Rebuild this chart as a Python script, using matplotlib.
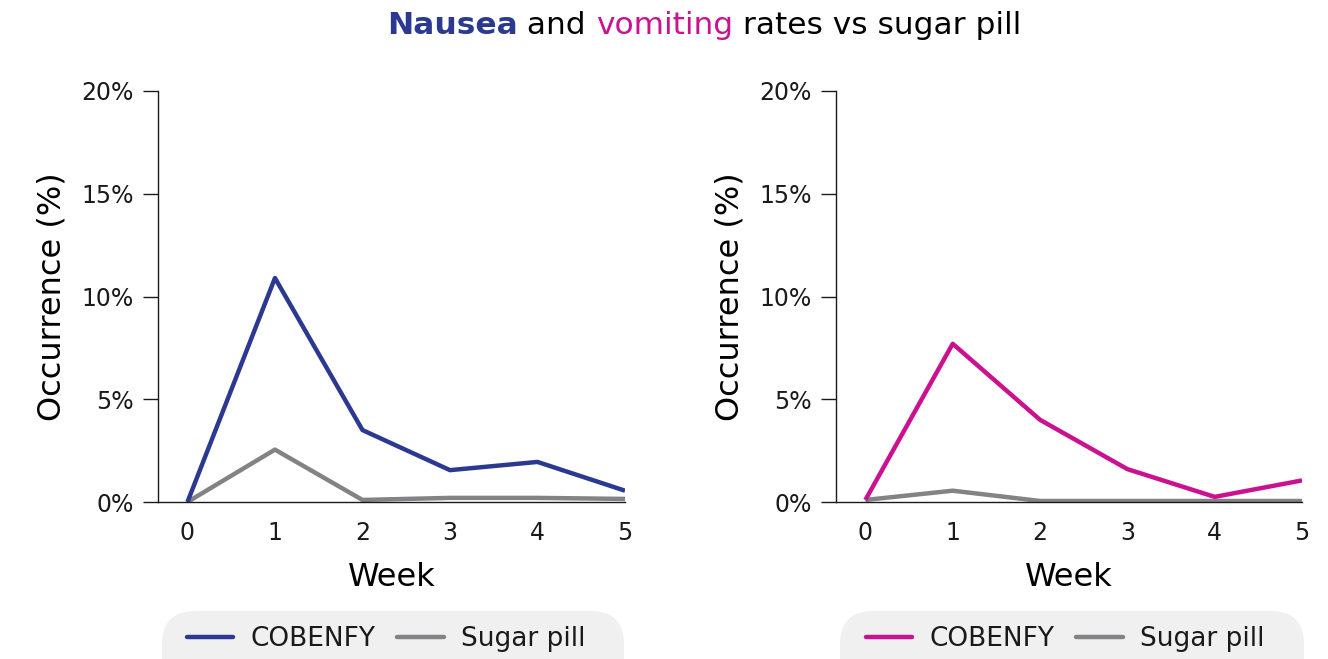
import matplotlib
matplotlib.use("Agg")
import matplotlib.pyplot as plt
from matplotlib.patches import FancyBboxPatch
from matplotlib.lines import Line2D
from matplotlib import ticker

plt.rcParams["font.family"] = ["DejaVu Sans"]

weeks = [0, 1, 2, 3, 4, 5]
nausea_cobenfy = [0.0, 10.9, 3.5, 1.55, 1.95, 0.55]
nausea_placebo = [0.0, 2.55, 0.1, 0.2, 0.2, 0.15]
vomiting_cobenfy = [0.1, 7.7, 4.0, 1.6, 0.25, 1.05]
vomiting_placebo = [0.1, 0.55, 0.05, 0.05, 0.05, 0.05]
y_ticks = [0, 5, 10, 15, 20]
legend_labels = ["COBENFY", "Sugar pill"]

BLUE = "#2b3990"
MAGENTA = "#cc1190"
GREY = "#838386"
TEXT = "#1a1a1a"

W, H = 1328, 659
fig = plt.figure(figsize=(W / 100, H / 100), dpi=100)


def draw_panel(rect, cobenfy, placebo, color):
    ax = fig.add_axes(rect)
    ax.plot(weeks, placebo, color=GREY, lw=3.2, solid_capstyle="butt")
    ax.plot(weeks, cobenfy, color=color, lw=3.2, solid_capstyle="butt")
    ax.set_xlim(-0.34, 5)
    ax.set_ylim(0, 20)
    ax.set_yticks(y_ticks)
    ax.yaxis.set_major_formatter(ticker.FuncFormatter(lambda v, p: f"{v:.0f}%"))
    ax.set_xticks(weeks)
    for s in ["top", "right"]:
        ax.spines[s].set_visible(False)
    for s in ["left", "bottom"]:
        ax.spines[s].set_linewidth(1.0)
        ax.spines[s].set_color(TEXT)
    ax.tick_params(axis="y", length=11, width=1.0, pad=6, labelsize=17, colors=TEXT)
    ax.tick_params(axis="x", length=0, pad=14, labelsize=17, colors=TEXT)
    ax.set_ylabel("Occurrence (%)", fontsize=23, color="black", labelpad=10)
    ax.set_xlabel("Week", fontsize=23, color="black", labelpad=12)
    return ax


ax1 = draw_panel([157.7 / W, 157 / H, 467.3 / W, 411 / H],
                 nausea_cobenfy, nausea_placebo, BLUE)
ax2 = draw_panel([835.7 / W, 157 / H, 466.3 / W, 411 / H],
                 vomiting_cobenfy, vomiting_placebo, MAGENTA)


def draw_legend(x0, x1, color):
    box = FancyBboxPatch((x0 / W, -0.05), (x1 - x0) / W, (659 - 611) / H + 0.05,
                         boxstyle="round,pad=0,rounding_size=0.025",
                         transform=fig.transFigure, facecolor="#f0f0f0",
                         edgecolor="none", mutation_aspect=W / H)
    fig.patches.append(box)
    handles = [Line2D([], [], color=color, lw=3.2, solid_capstyle="round"),
               Line2D([], [], color=GREY, lw=3.2, solid_capstyle="round")]
    # content sits a little left of the box centre
    fig.legend(handles, legend_labels, loc="center",
               bbox_to_anchor=((x0 + x1) / 2 / W - 7 / W, (659 - 639) / H),
               ncol=2, frameon=False, fontsize=19, handlelength=1.75,
               columnspacing=0.85, handletextpad=0.65, labelcolor=TEXT)


draw_legend(162, 624, BLUE)
draw_legend(840, 1304, MAGENTA)

# title in three colours
parts = [("Nausea", BLUE, "bold"), (" and ", "black", "normal"),
         ("vomiting", MAGENTA, "normal"), (" rates vs sugar pill", "black", "normal")]
fig.canvas.draw()
renderer = fig.canvas.get_renderer()
texts = []
total = 0
for s, c, w in parts:
    t = fig.text(0, 1 - 26 / H, s, color=c, fontweight=w, fontsize=22.5, va="center")
    wpx = t.get_window_extent(renderer=renderer).width
    texts.append((t, wpx))
    total += wpx
x = 704 - total / 2
for t, wpx in texts:
    t.set_x(x / W)
    x += wpx

fig.savefig("out.png", dpi=100)
